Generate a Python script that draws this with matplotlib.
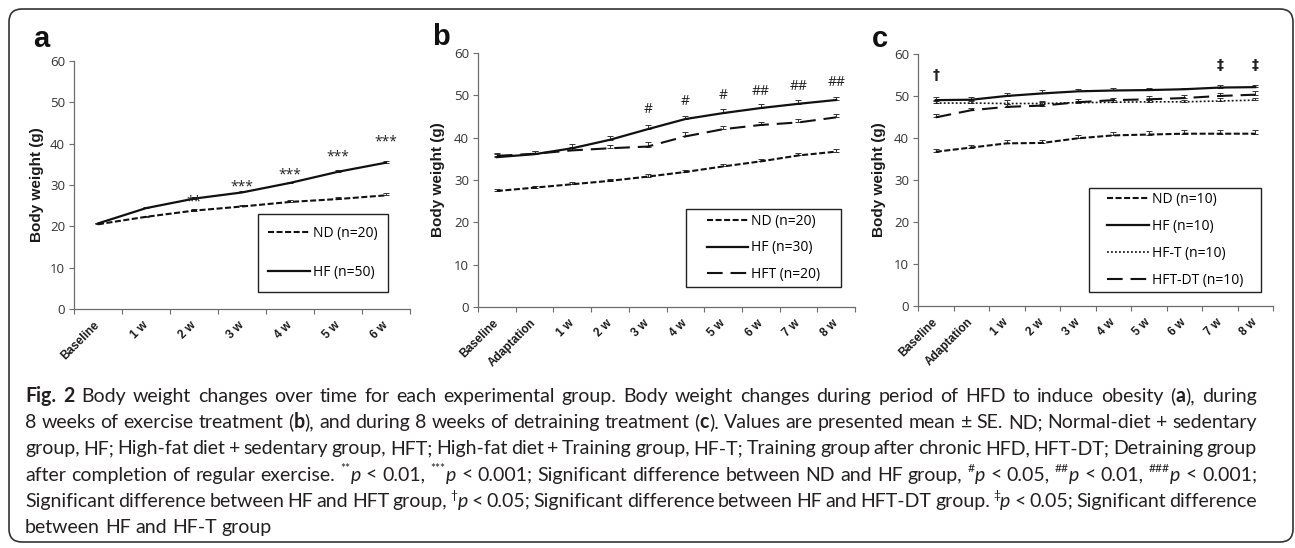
import re
import numpy as np
import matplotlib
matplotlib.use('Agg')
import matplotlib.pyplot as plt
from matplotlib.patches import Rectangle, FancyBboxPatch

W, H = 1295, 548

# ---------------- data ----------------
cats_a = ['Baseline', '1 w', '2 w', '3 w', '4 w', '5 w', '6 w']
a_nd = [20.5, 22.3, 23.8, 24.8, 25.9, 26.6, 27.5]
a_nd_se = [0.3, 0.3, 0.4, 0.4, 0.4, 0.5, 0.5]
a_hf = [20.7, 24.4, 26.7, 28.2, 30.5, 33.2, 35.4]
a_hf_se = [0.2, 0.3, 0.3, 0.3, 0.3, 0.4, 0.5]
a_sig = ['', '', '**', '***', '***', '***', '***']
a_sig_y = [0, 0, 26.0, 29.4, 32.5, 36.7, 40.4]
a_labels = ['ND (n=20)', 'HF (n=50)']

cats_bc = ['Baseline', 'Adaptation', '1 w', '2 w', '3 w', '4 w', '5 w', '6 w', '7 w', '8 w']
b_nd = [27.4, 28.2, 29.0, 29.8, 30.8, 31.9, 33.2, 34.4, 35.8, 36.7]
b_nd_se = [0.5, 0.5, 0.5, 0.5, 0.5, 0.5, 0.5, 0.5, 0.5, 0.6]
b_hf = [35.4, 36.1, 37.5, 39.5, 42.0, 44.4, 45.8, 47.0, 48.0, 48.9]
b_hf_se = [0.8, 0.8, 1.0, 0.95, 0.9, 0.8, 0.95, 0.9, 0.8, 0.7]
b_hft = [35.7, 36.2, 37.0, 37.5, 37.9, 40.3, 42.0, 43.0, 43.6, 44.8]
b_hft_se = [0.6, 0.6, 0.8, 0.8, 1.0, 0.95, 0.8, 0.8, 0.85, 0.8]
b_sig = ['', '', '', '', '#', '#', '#', '##', '##', '##']
b_sig_y = [0, 0, 0, 0, 46.7, 48.5, 50.0, 51.0, 52.1, 53.1]
b_labels = ['ND (n=20)', 'HF (n=30)', 'HFT (n=20)']

c_nd = [36.7, 37.7, 38.7, 38.8, 39.9, 40.6, 40.8, 41.0, 41.0, 41.0]
c_nd_se = [0.7, 0.7, 0.8, 0.8, 0.8, 0.9, 0.9, 0.9, 0.9, 0.9]
c_hf = [49.0, 49.1, 50.0, 50.6, 51.1, 51.3, 51.4, 51.6, 52.0, 52.1]
c_hf_se = [0.7, 0.7, 0.8, 0.7, 0.6, 0.6, 0.5, 0.4, 0.5, 0.5]
c_hft = [48.3, 48.3, 48.2, 48.2, 48.4, 48.5, 48.6, 48.6, 48.8, 49.0]
c_hft_se = [0.6, 0.6, 0.8, 0.6, 0.5, 0.5, 0.5, 0.5, 0.6, 0.6]
c_hftdt = [44.9, 46.6, 47.4, 47.7, 48.5, 49.0, 49.2, 49.5, 50.0, 50.3]
c_hftdt_se = [0.9, 0.6, 0.7, 0.8, 0.7, 0.6, 0.7, 0.8, 0.8, 0.8]
c_sig = ['†', '', '', '', '', '', '', '', '‡', '‡']
c_sig_y = [55.0, 0, 0, 0, 0, 0, 0, 0, 57.4, 57.4]
c_labels = ['ND (n=10)', 'HF (n=10)', 'HF-T (n=10)', 'HFT-DT (n=10)']

caption_lines = [
    "<b>Fig.</b> <b>2</b> Body weight changes over time for each experimental group. Body weight changes during period of HFD to induce obesity (<b>a</b>), during",
    "8 weeks of exercise treatment (<b>b</b>), and during 8 weeks of detraining treatment (<b>c</b>). Values are presented mean ± SE. ND; Normal-diet + sedentary",
    "group, HF; High-fat diet + sedentary group, HFT; High-fat diet + Training group, HF-T; Training group after chronic HFD, HFT-DT; Detraining group",
    "after completion of regular exercise. <s>**</s><i>p</i> < 0.01, <s>***</s><i>p</i> < 0.001; Significant difference between ND and HF group, <s>#</s><i>p</i> < 0.05, <s>##</s><i>p</i> < 0.01, <s>###</s><i>p</i> < 0.001;",
    "Significant difference between HF and HFT group, <s>†</s><i>p</i> < 0.05; Significant difference between HF and HFT-DT group. <s>‡</s><i>p</i> < 0.05; Significant difference",
    "between HF and HF-T group",
]

# ---------------- styles ----------------
ST = {
    'ND': dict(color='#111111', lw=1.5, ls=(0, (2.9, 1.2))),
    'HF': dict(color='#111111', lw=1.6, ls='-'),
    'HFT': dict(color='#111111', lw=1.5, ls=(0, (7.5, 3.8))),
    'HFT_dot': dict(color='#111111', lw=1.2, ls=(0, (1.1, 1.3))),
}

fig = plt.figure(figsize=(W / 100, H / 100), dpi=100)


def px_axes(l, r, t, b):
    return fig.add_axes([l / W, 1 - b / H, (r - l) / W, (b - t) / H])


def setup(ax, cats, labx):
    n = len(cats)
    ax.set_xlim(-0.5, n - 0.5)
    ax.set_ylim(0, 60)
    ax.set_xticks(np.arange(-0.5, n, 1.0))
    ax.set_xticks(np.arange(n), minor=True)
    ax.set_xticklabels([], minor=False)
    ax.set_xticklabels(cats, minor=True, rotation=45, ha='right', va='center',
                       rotation_mode='anchor', fontweight='bold', fontsize=8.5,
                       family='Liberation Sans', color='#1a1a1a')
    ax.tick_params(axis='x', which='major', length=3.5, direction='out',
                   color='#6d6d6d', width=0.8)
    ax.tick_params(axis='x', which='minor', length=0, pad=10.5)
    ax.set_yticks(np.arange(0, 61, 10))
    ax.tick_params(axis='y', length=3.5, direction='out', color='#6d6d6d',
                   width=0.8, labelsize=9.5, labelcolor='#333333', pad=3)
    for lab in ax.get_yticklabels():
        lab.set_family('Open Sans')
    for s in ['top', 'right']:
        ax.spines[s].set_visible(False)
    for s in ['left', 'bottom']:
        ax.spines[s].set_color('#6d6d6d')
        ax.spines[s].set_linewidth(0.9)
    ax.set_ylabel('Body weight (g)', fontsize=11, fontweight='bold',
                  family='Liberation Sans', color='#1a1a1a')
    ax.yaxis.set_label_coords(labx, 0.5)
    ax.patch.set_alpha(0)


def series(ax, y, se, style):
    x = np.arange(len(y))
    ax.errorbar(x, y, yerr=[np.zeros(len(se)), se], fmt='none', ecolor='#333333',
                elinewidth=0.7, capsize=2.5, capthick=0.7, zorder=2)
    st = ST[style]
    ln, = ax.plot(x, y, color=st['color'], lw=st['lw'], ls=st['ls'], zorder=3)
    return ln


def sig(ax, labels, ys, **kw):
    for i, (s, yy) in enumerate(zip(labels, ys)):
        if s:
            ax.text(i, yy, s, ha='center', va='center', color='#222222', **kw)


def legend_box(ax, handles, labels, box, spacing):
    x0, y0, x1, y1 = box
    cx, cy = (x0 + x1) / 2, (y0 + y1) / 2
    ax.legend(handles, labels, loc='center', bbox_to_anchor=(cx / W, 1 - cy / H),
              bbox_transform=fig.transFigure, frameon=False,
              prop={'family': 'Open Sans', 'size': 10}, handlelength=3.0,
              handletextpad=0.2, labelspacing=spacing, borderpad=0, borderaxespad=0)
    fig.patches.append(Rectangle((x0 / W, 1 - y1 / H), (x1 - x0) / W, (y1 - y0) / H,
                                 transform=fig.transFigure, fill=False,
                                 lw=1.0, ec='#222222'))


# ---------------- panel a ----------------
axa = px_axes(74, 410, 61, 309)
setup(axa, cats_a, -0.089)
h1 = series(axa, a_nd, a_nd_se, 'ND')
h2 = series(axa, a_hf, a_hf_se, 'HF')
sig(axa, a_sig, a_sig_y, fontsize=10, family='Open Sans')
legend_box(axa, [h1, h2], a_labels, (258, 214, 388, 292), 1.75)

# ---------------- panel b ----------------
axb = px_axes(478, 855, 53, 307)
setup(axb, cats_bc, -0.0875)
h1 = series(axb, b_nd, b_nd_se, 'ND')
h2 = series(axb, b_hf, b_hf_se, 'HF')
h3 = series(axb, b_hft, b_hft_se, 'HFT')
sig(axb, b_sig, b_sig_y, fontsize=10, family='Open Sans')
legend_box(axb, [h1, h2, h3], b_labels, (686, 209, 841, 287), 0.85)

# ---------------- panel c ----------------
axc = px_axes(918, 1273, 54, 305.7)
setup(axc, cats_bc, -0.09)
h1 = series(axc, c_nd, c_nd_se, 'ND')
h2 = series(axc, c_hf, c_hf_se, 'HF')
h3 = series(axc, c_hft, c_hft_se, 'HFT_dot')
h4 = series(axc, c_hftdt, c_hftdt_se, 'HFT')
sig(axc, c_sig, c_sig_y, fontsize=10, family='DejaVu Sans', fontweight='bold')
legend_box(axc, [h1, h2, h3, h4], c_labels, (1089, 188, 1261, 292), 0.85)

# ---------------- panel letters ----------------
for lx, ly, t in [(33, 47, 'a'), (432, 45, 'b'), (872, 47, 'c')]:
    fig.text(lx / W, 1 - ly / H, t, fontsize=21, fontweight='bold',
             family='Liberation Sans', va='baseline', ha='left', color='#111111')

# ---------------- outer rounded frame ----------------
fig.patches.append(FancyBboxPatch((0.09, (H - 542) / 100), (1293 - 9) / 100, (542 - 9) / 100,
                                  boxstyle='round,pad=0,rounding_size=0.13',
                                  transform=fig.dpi_scale_trans, fill=False,
                                  lw=1.2, ec='#333333'))

# ---------------- caption (justified, with inline styles) ----------------
renderer = fig.canvas.get_renderer()
cap_color = '#231f20'
x_left, x_right = 25, 1257
baselines = [402, 428.2, 454.4, 480.6, 506.8, 533]
TAG = re.compile(r'<(b|i|s)>(.*?)</\1>')


def parse(word):
    segs, pos = [], 0
    for m in TAG.finditer(word):
        if m.start() > pos:
            segs.append((word[pos:m.start()], 'n'))
        segs.append((m.group(2), m.group(1)))
        pos = m.end()
    if pos < len(word):
        segs.append((word[pos:], 'n'))
    return segs


def make_word(word, fs):
    items = []
    total = 0.0
    for txt, st in parse(word):
        kw = dict(fontsize=fs, family='Lato', color=cap_color, va='baseline', ha='left')
        rise = 0.0
        if st == 'b':
            kw['fontweight'] = 'bold'
        elif st == 'i':
            kw['fontstyle'] = 'italic'
        elif st == 's':
            kw['fontsize'] = fs * 0.62
            rise = fs * 0.42 * 100 / 72
        t = fig.text(0, 0, txt, **kw)
        w = t.get_window_extent(renderer).width
        items.append((t, total, rise))
        total += w
    return items, total


def space_width(fs):
    t1 = fig.text(0, 0, 'x x', fontsize=fs, family='Lato')
    t2 = fig.text(0, 0, 'xx', fontsize=fs, family='Lato')
    w = t1.get_window_extent(renderer).width - t2.get_window_extent(renderer).width
    t1.remove(); t2.remove()
    return w


# font size from the natural width of the second line
fs0 = 12.0
tmp = [make_word(w, fs0) for w in caption_lines[1].split(' ')]
nat = sum(t[1] for t in tmp) + space_width(fs0) * (len(tmp) - 1)
for items, _ in tmp:
    for t, _, _ in items:
        t.remove()
fs = fs0 * (x_right - x_left) / nat
sp = space_width(fs)

for k, line in enumerate(caption_lines):
    words = [make_word(w, fs) for w in line.split(' ')]
    widths = [w[1] for w in words]
    last = (k == len(caption_lines) - 1)
    gap = sp if last else (x_right - x_left - sum(widths)) / (len(words) - 1)
    x = x_left
    for (items, wtot) in words:
        for t, off, rise in items:
            t.set_position(((x + off) / W, 1 - (baselines[k] - rise) / H))
        x += wtot + gap

fig.savefig('out.png', dpi=100)
